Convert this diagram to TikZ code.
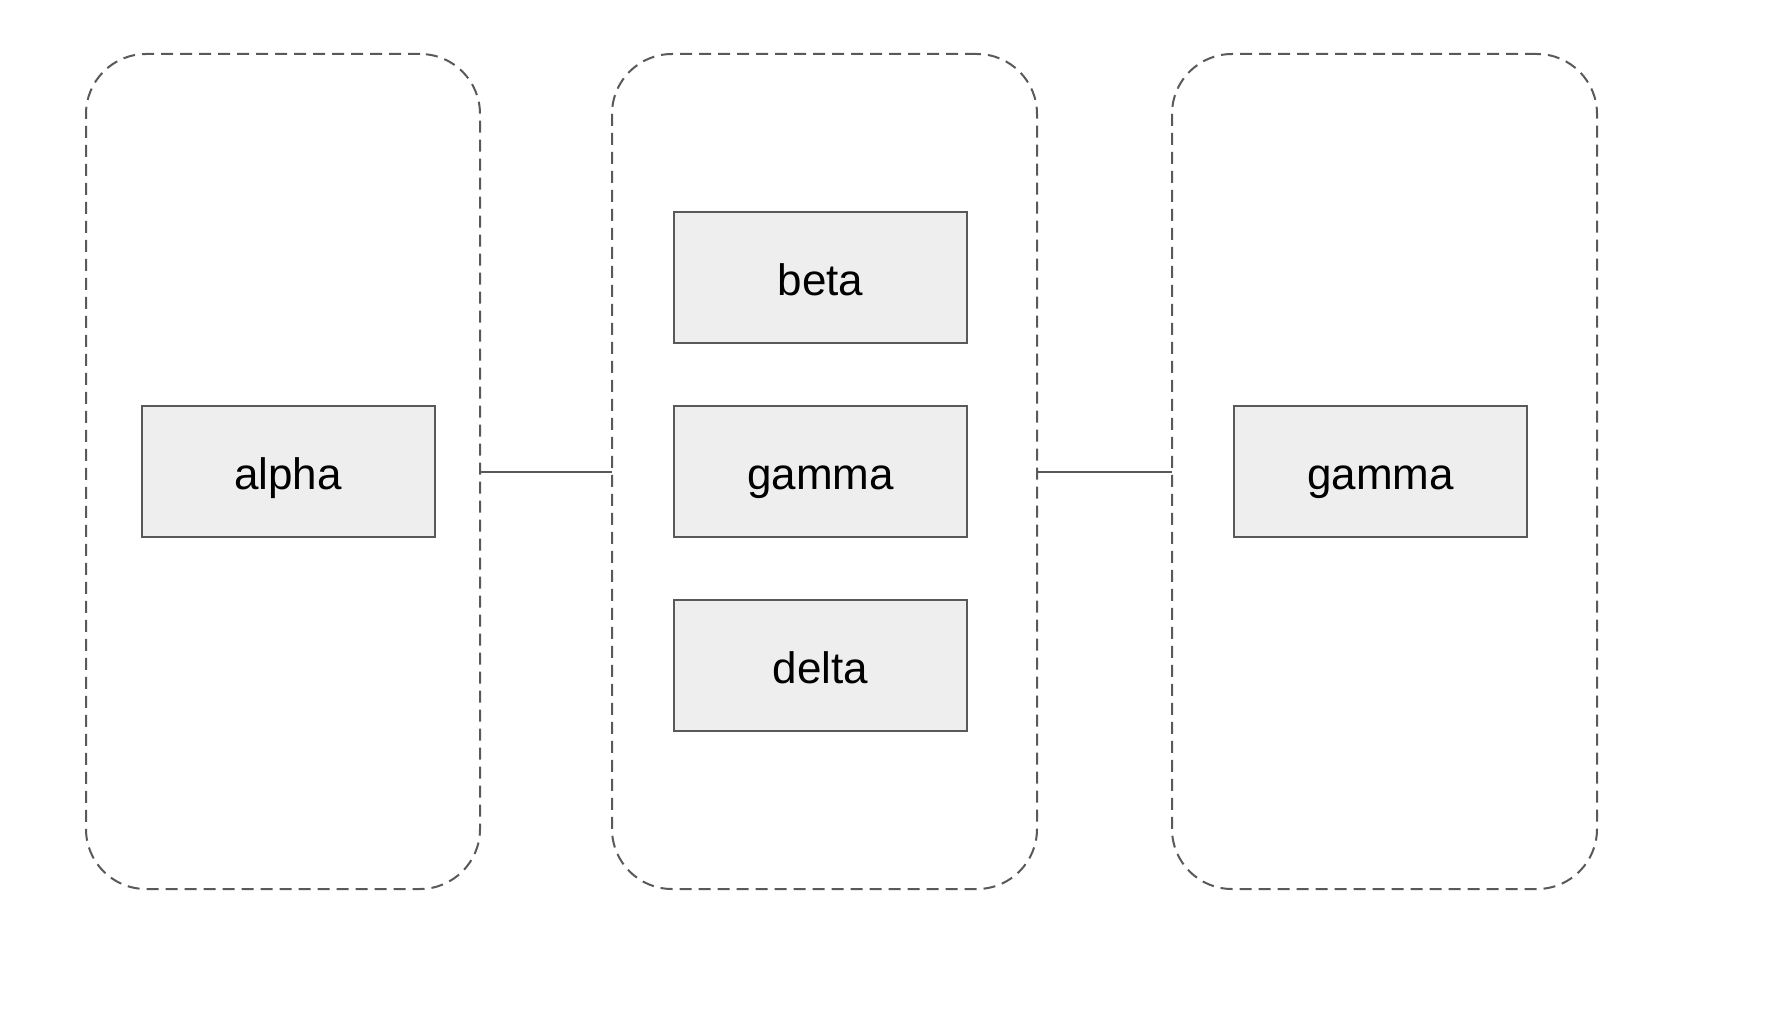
\documentclass[tikz,border=0pt]{standalone}
\usepackage{fontspec}
\setmainfont{Liberation Sans}
\definecolor{edge}{HTML}{595959}
\definecolor{boxfill}{HTML}{EEEEEE}
\begin{document}
\begin{tikzpicture}[x=1pt,y=-1pt,
  container/.style={draw=edge, line width=2pt, dash pattern=on 12pt off 7pt, rounded corners=60pt, inner sep=0pt, outer sep=0pt, minimum height=835pt},
  itembox/.style={draw=edge, fill=boxfill, line width=2pt, inner sep=0pt, outer sep=0pt, minimum width=293pt, minimum height=131.5pt, text height=40pt, text depth=4pt, font=\fontsize{44}{53}\selectfont},
  link/.style={draw=edge, line width=2pt}]
\useasboundingbox (0,0) rectangle (1792,1014);
\node[container, minimum width=394pt] (c1) at (283,471.5) {};
\node[container, minimum width=425pt] (c2) at (824.5,471.5) {};
\node[container, minimum width=425pt] (c3) at (1384.5,471.5) {};
\node[itembox] (alpha) at (288,471.3) {alpha};
\node[itembox] (beta) at (820.5,277.5) {beta};
\node[itembox] (gamma) at (820.5,471.3) {gamma};
\node[itembox] (delta) at (820.5,665.7) {delta};
\node[itembox] (gamma2) at (1380.5,471.3) {gamma};
\draw[link] (c1.east) -- (c2.west);
\draw[link] (c2.east) -- (c3.west);
\end{tikzpicture}
\end{document}
